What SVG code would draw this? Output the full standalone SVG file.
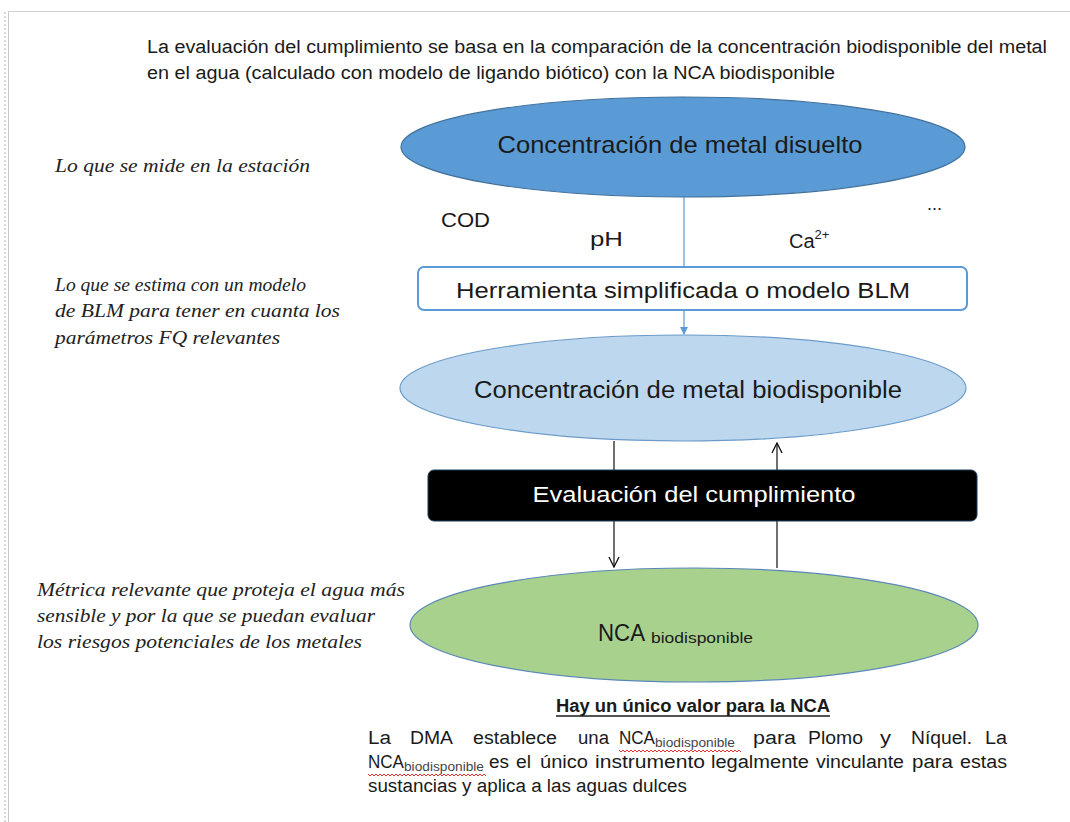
<svg xmlns="http://www.w3.org/2000/svg" width="1070" height="822" viewBox="0 0 1070 822">
<style>
.sans{font-family:"Liberation Sans",Arial,sans-serif;fill:#1a1a1a}
.ital{font-family:"Liberation Serif","Times New Roman",serif;font-style:italic;fill:#222;font-size:18px}
.conn{fill:none;stroke:#111;stroke-width:1.2}
.blue{fill:none;stroke:#5b9bd5;stroke-width:1.2}
.wavy{fill:none;stroke:#e03030;stroke-width:1}
</style>
<defs>
<marker id="open" viewBox="0 0 12 12" refX="11" refY="6" markerWidth="12" markerHeight="12" markerUnits="userSpaceOnUse" orient="auto">
<path d="M1,1 L11,6 L1,11" fill="none" stroke="#111" stroke-width="1.3"/>
</marker>
<marker id="bluehead" viewBox="0 0 8 8" refX="7" refY="4" markerWidth="8" markerHeight="8" markerUnits="userSpaceOnUse" orient="auto">
<path d="M0,0 L8,4 L0,8 Z" fill="#5b9bd5"/>
</marker>
</defs>
<rect x="0" y="0" width="1070" height="822" fill="#fff"/>
<g id="frame">
<line x1="5" y1="12" x2="5" y2="822" stroke="#d8d8d8" stroke-width="2" stroke-dasharray="2 2"/>
<line x1="8.5" y1="11" x2="8.5" y2="822" stroke="#c8c8c8" stroke-width="1"/>
<line x1="8" y1="11.5" x2="1070" y2="11.5" stroke="#d0d0d0" stroke-width="1"/>
</g>
<g id="title" class="sans" font-size="18">
<text x="147" y="53" textLength="900" lengthAdjust="spacingAndGlyphs">La evaluación del cumplimiento se basa en la comparación de la concentración biodisponible del metal</text>
<text x="147" y="79" textLength="688" lengthAdjust="spacingAndGlyphs">en el agua (calculado con  modelo de ligando biótico) con la NCA biodisponible</text>
</g>
<g id="notes">
<text class="ital" x="55" y="172" textLength="255" lengthAdjust="spacingAndGlyphs">Lo que se mide en la estación</text>
<text class="ital" x="55" y="291" textLength="251" lengthAdjust="spacingAndGlyphs">Lo que se estima con un modelo</text>
<text class="ital" x="55" y="317" textLength="285" lengthAdjust="spacingAndGlyphs">de BLM para tener en cuanta los</text>
<text class="ital" x="55" y="344" textLength="225" lengthAdjust="spacingAndGlyphs">parámetros FQ relevantes</text>
<text class="ital" x="37" y="596" textLength="368" lengthAdjust="spacingAndGlyphs">Métrica relevante que proteja el agua más</text>
<text class="ital" x="37" y="622" textLength="338" lengthAdjust="spacingAndGlyphs">sensible y por la que se puedan evaluar</text>
<text class="ital" x="37" y="648" textLength="325" lengthAdjust="spacingAndGlyphs">los riesgos potenciales de los metales</text>
</g>
<g id="connectors">
<line class="blue" x1="684" y1="196" x2="684" y2="267"/>
<line class="blue" x1="684" y1="310" x2="684" y2="334" marker-end="url(#bluehead)"/>
<line class="conn" x1="614" y1="441" x2="614" y2="470"/>
<line class="conn" x1="614" y1="521" x2="614" y2="567" marker-end="url(#open)"/>
<line class="conn" x1="777" y1="568" x2="777" y2="521"/>
<line class="conn" x1="777" y1="470" x2="777" y2="443" marker-end="url(#open)"/>
</g>
<g id="n-disuelto">
<ellipse cx="683" cy="147" rx="282" ry="50" fill="#5b9bd5" stroke="#41719c" stroke-width="1.2"/>
<text class="sans" x="680" y="153" font-size="24" text-anchor="middle" textLength="365" lengthAdjust="spacingAndGlyphs">Concentración de metal disuelto</text>
</g>
<g id="params" class="sans" font-size="20">
<text x="441" y="227" textLength="49" lengthAdjust="spacingAndGlyphs">COD</text>
<text x="590" y="246" textLength="33" lengthAdjust="spacingAndGlyphs">pH</text>
<text x="789" y="248">Ca<tspan font-size="13" dy="-9">2+</tspan></text>
<text x="927" y="210" font-size="18">...</text>
</g>
<g id="n-herramienta">
<rect x="418" y="267" width="549" height="43" rx="6" ry="6" fill="#fff" stroke="#5b9bd5" stroke-width="2"/>
<text class="sans" x="683" y="298" font-size="22" text-anchor="middle" textLength="454" lengthAdjust="spacingAndGlyphs">Herramienta simplificada o modelo BLM</text>
</g>
<g id="n-biodisponible">
<ellipse cx="683" cy="388" rx="283" ry="53" fill="#bdd7ee" stroke="#6b9bc8" stroke-width="1.2"/>
<text class="sans" x="688" y="398" font-size="23" text-anchor="middle" textLength="428" lengthAdjust="spacingAndGlyphs">Concentración de metal biodisponible</text>
</g>
<g id="n-evaluacion">
<rect x="428" y="470" width="549" height="51" rx="6" ry="6" fill="#000" stroke="#1f3d5c" stroke-width="1"/>
<text x="694" y="502" font-family="Liberation Sans,Arial,sans-serif" font-size="22" fill="#fff" text-anchor="middle" textLength="323" lengthAdjust="spacingAndGlyphs">Evaluación del cumplimiento</text>
</g>
<g id="n-nca">
<ellipse cx="694" cy="625" rx="284" ry="57" fill="#a9d18e" stroke="#5b87b8" stroke-width="1.2"/>
<text class="sans" x="598" y="641" font-size="24" textLength="47" lengthAdjust="spacingAndGlyphs">NCA</text>
<text class="sans" x="651" y="643" font-size="14" textLength="102" lengthAdjust="spacingAndGlyphs">biodisponible</text>
</g>
<g id="footer" class="sans" font-size="18">
<text x="693" y="712" font-weight="bold" text-anchor="middle" textLength="274" lengthAdjust="spacingAndGlyphs">Hay un único valor para la NCA</text>
<line x1="556" y1="716" x2="830" y2="716" stroke="#1a1a1a" stroke-width="1.3"/>
<g>
<text x="368" y="744" textLength="23" lengthAdjust="spacingAndGlyphs">La</text>
<text x="410" y="744" textLength="43" lengthAdjust="spacingAndGlyphs">DMA</text>
<text x="473" y="744" textLength="84" lengthAdjust="spacingAndGlyphs">establece</text>
<text x="578" y="744" textLength="31" lengthAdjust="spacingAndGlyphs">una</text>
<text x="619" y="744" textLength="36" lengthAdjust="spacingAndGlyphs">NCA</text>
<text x="655" y="747" font-size="12" fill="#444" textLength="80" lengthAdjust="spacingAndGlyphs">biodisponible</text>
<text x="753" y="744" textLength="43" lengthAdjust="spacingAndGlyphs">para</text>
<text x="808" y="744" textLength="55" lengthAdjust="spacingAndGlyphs">Plomo</text>
<text x="880" y="744" textLength="11" lengthAdjust="spacingAndGlyphs">y</text>
<text x="911" y="744" textLength="61" lengthAdjust="spacingAndGlyphs">Níquel.</text>
<text x="985" y="744" textLength="22" lengthAdjust="spacingAndGlyphs">La</text>
</g>
<g>
<text x="368" y="768" textLength="36" lengthAdjust="spacingAndGlyphs">NCA</text>
<text x="404" y="771" font-size="12" fill="#444" textLength="80" lengthAdjust="spacingAndGlyphs">biodisponible</text>
<text x="489" y="768" textLength="20" lengthAdjust="spacingAndGlyphs">es</text>
<text x="516" y="768" textLength="15" lengthAdjust="spacingAndGlyphs">el</text>
<text x="540" y="768" textLength="48" lengthAdjust="spacingAndGlyphs">único</text>
<text x="595" y="768" textLength="110" lengthAdjust="spacingAndGlyphs">instrumento</text>
<text x="711" y="768" textLength="98" lengthAdjust="spacingAndGlyphs">legalmente</text>
<text x="816" y="768" textLength="88" lengthAdjust="spacingAndGlyphs">vinculante</text>
<text x="912" y="768" textLength="41" lengthAdjust="spacingAndGlyphs">para</text>
<text x="960" y="768" textLength="47" lengthAdjust="spacingAndGlyphs">estas</text>
</g>
<text x="368" y="792" textLength="319" lengthAdjust="spacingAndGlyphs">sustancias y aplica a las aguas dulces</text>
<path class="wavy" d="M619,750 l2,2 l2,-2 l2,2 l2,-2 l2,2 l2,-2 l2,2 l2,-2 l2,2 l2,-2 l2,2 l2,-2 l2,2 l2,-2 l2,2 l2,-2 l2,2 l2,-2 l2,2 l2,-2 l2,2 l2,-2 l2,2 l2,-2 l2,2 l2,-2 l2,2 l2,-2 l2,2 l2,-2 l2,2 l2,-2 l2,2 l2,-2 l2,2 l2,-2 l2,2 l2,-2 l2,2 l2,-2 l2,2 l2,-2 l2,2 l2,-2 l2,2 l2,-2 l2,2 l2,-2 l2,2 l2,-2 l2,2 l2,-2 l2,2 l2,-2 l2,2 l2,-2 l2,2 l2,-2 l2,2 l2,-2 l2,2"/>
<path class="wavy" d="M368,774 l2,2 l2,-2 l2,2 l2,-2 l2,2 l2,-2 l2,2 l2,-2 l2,2 l2,-2 l2,2 l2,-2 l2,2 l2,-2 l2,2 l2,-2 l2,2 l2,-2 l2,2 l2,-2 l2,2 l2,-2 l2,2 l2,-2 l2,2 l2,-2 l2,2 l2,-2 l2,2 l2,-2 l2,2 l2,-2 l2,2 l2,-2 l2,2 l2,-2 l2,2 l2,-2 l2,2 l2,-2 l2,2 l2,-2 l2,2 l2,-2 l2,2 l2,-2 l2,2 l2,-2 l2,2 l2,-2 l2,2 l2,-2 l2,2 l2,-2 l2,2 l2,-2 l2,2 l2,-2 l2,2"/>
</g>
</svg>
